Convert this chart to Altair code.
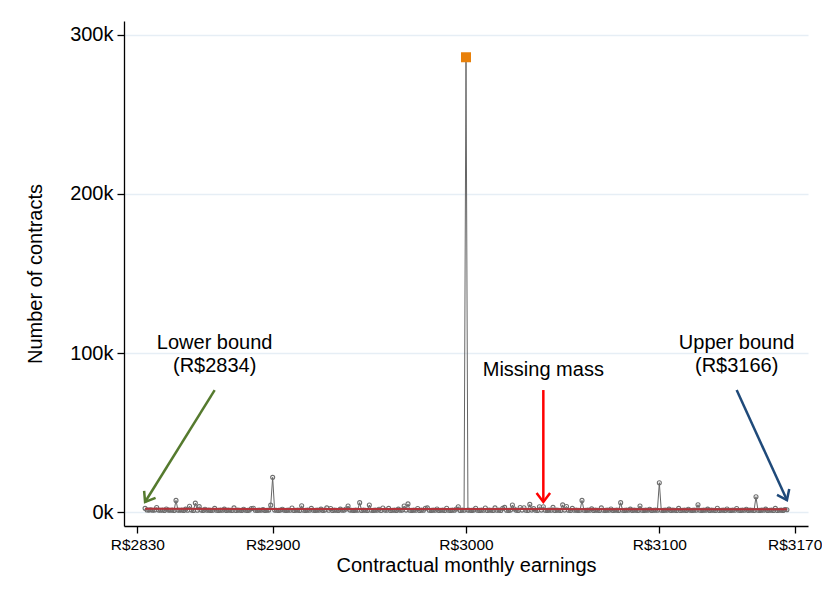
import altair as alt
import pandas as pd

# ---------------- data ----------------
earn_first = 2830  # first slot of the counts list (R$)
counts = [
    None, None, None, None, 2300, 1300, 1200, 1400, 1100, 1300,      # 2830s
    2800, 1200, 1100, 1300, 1000, 1900, 1200, 1100, 1300, 1000,      # 2840s
    7300, 1200, 1100, 1300, 1000, 1800, 1100, 3600, 1200, 1000,      # 2850s
    5600, 1100, 3400, 1200, 1000, 1700, 1100, 1200, 1000, 1100,      # 2860s
    2300, 1100, 1000, 1200, 1100, 1800, 1000, 1200, 1100, 1000,      # 2870s
    2600, 1000, 1200, 1100, 1000, 1700, 1100, 1000, 1200, 2200,      # 2880s
    2400, 1100, 1000, 1200, 1100, 1600, 1000, 1100, 1200, 4300,      # 2890s
    21800, 1200, 1100, 1000, 1200, 1700, 1100, 1000, 1200, 1100,     # 2900s
    2500, 1000, 1100, 1200, 1000, 3900, 1100, 1000, 1200, 1100,      # 2910s
    2300, 1100, 1000, 1200, 1100, 1800, 1000, 1200, 2600, 1100,      # 2920s
    2200, 1000, 1200, 1100, 1000, 1800, 1100, 1200, 1900, 3800,      # 2930s
    1200, 1100, 1000, 1200, 1100, 5900, 1000, 1200, 1100, 1000,      # 2940s
    4400, 1100, 1000, 1200, 1100, 1700, 1000, 2500, 1200, 1100,      # 2950s
    2300, 1000, 1100, 1200, 1000, 1800, 1100, 1200, 3800, 1200,      # 2960s
    5100, 1100, 1000, 1200, 1100, 2200, 1000, 1200, 1100, 2400,      # 2970s
    2600, 1100, 1000, 1200, 1100, 1900, 1000, 1100, 1200, 1000,      # 2980s
    2400, 1100, 1000, 1200, 1100, 1900, 3300, 1000, 1200, 1100,      # 2990s
    286000, 1200, 1100, 1000, 1200, 2400, 1100, 1000, 1200, 1100,   # 3000s
    2500, 1000, 1200, 1100, 1000, 2600, 1100, 1200, 1000, 2300,      # 3010s
    2900, 1100, 1000, 1200, 4400, 1900, 1100, 1000, 2800, 1200,      # 3020s
    2700, 1100, 1000, 4800, 1200, 2100, 1100, 1000, 3300, 1200,      # 3030s
    3300, 1100, 1000, 1200, 1100, 2900, 1000, 1200, 1100, 1000,      # 3040s
    4500, 1200, 3500, 1100, 1000, 2300, 1100, 1200, 1000, 1100,      # 3050s
    7300, 1100, 1000, 1200, 1100, 2000, 1000, 1200, 1100, 1000,      # 3060s
    2600, 1100, 1000, 1200, 1100, 1900, 1000, 1100, 1200, 1000,      # 3070s
    5900, 1100, 1000, 1200, 1100, 1800, 1000, 1200, 1100, 1000,      # 3080s
    3800, 1100, 1000, 1200, 1100, 1700, 1000, 1100, 1200, 1100,      # 3090s
    18400, 1100, 1000, 1200, 1100, 1800, 1000, 1200, 1100, 1000,     # 3100s
    2300, 1000, 1100, 1200, 1000, 1700, 1100, 1000, 1200, 1100,      # 3110s
    4600, 1100, 1000, 1200, 1100, 1800, 1000, 1200, 1100, 1000,      # 3120s
    2400, 1000, 1100, 1200, 1000, 1900, 1100, 1000, 1200, 1100,      # 3130s
    2200, 1100, 1000, 1200, 1100, 1700, 1000, 1200, 1100, 1000,      # 3140s
    9600, 1100, 1000, 1200, 1100, 1800, 1000, 1100, 1200, 1000,      # 3150s
    2300, 1000, 1100, 1200, 1000, 1600, 1400, None, None, None,      # 3160s
]

cf_earn = [2834, 2900, 3000, 3100, 3166]
cf_count = [2000, 1950, 1850, 1800, 1750]

peak_earn = [3000]
peak_count = [286000]

x_ticks = [2830, 2900, 3000, 3100, 3170]
y_ticks = [0, 100000, 200000, 300000]

arrow_x = [2870, 3040, 3140]
arrow_y = [76700, 76700, 76700]
arrow_x2 = [2834, 3040, 3166]
arrow_y2 = [6300, 6300, 7500]
arrow_angle = [32, 0, 335]
arrow_color = ["#557a2e", "#ff0000", "#1f4a7a"]

label_x = [2870, 2870, 3040, 3140, 3140]
label_y = [106300, 91800, 89300, 106300, 91800]
label_text = ["Lower bound", "(R$2834)", "Missing mass", "Upper bound", "(R$3166)"]

# ---------------- tables ----------------
df = pd.DataFrame({"earn": [earn_first + i for i in range(len(counts))], "n": counts}).dropna()
df_cf = pd.DataFrame({"earn": cf_earn, "n": cf_count})
df_peak = pd.DataFrame({"earn": peak_earn, "n": peak_count})
df_arrow = pd.DataFrame({"x": arrow_x, "y": arrow_y, "x2": arrow_x2, "y2": arrow_y2,
                         "angle": arrow_angle, "color": arrow_color})
df_lab = pd.DataFrame({"x": label_x, "y": label_y, "t": label_text})

FONT = "Liberation Sans"
xscale = alt.Scale(domain=[2823.1, 3176.9], nice=False, zero=False)
yscale = alt.Scale(domain=[-8800, 308800], nice=False, zero=False)

xax = alt.X("earn:Q", scale=xscale,
            axis=alt.Axis(values=x_ticks, labelExpr="'R$' + datum.value",
                          title="Contractual monthly earnings", grid=False,
                          labelFontSize=15.5, titleFontSize=20, titlePadding=3,
                          labelPadding=4, labelFlush=False))
yax = alt.Y("n:Q", scale=yscale,
            axis=alt.Axis(values=y_ticks, labelExpr="datum.value / 1000 + 'k'",
                          title="Number of contracts", grid=True,
                          labelFontSize=20, titleFontSize=20, titlePadding=24,
                          labelPadding=4))

line = alt.Chart(df).mark_line(color="#666666", strokeWidth=1).encode(x=xax, y=yax)
pts = alt.Chart(df).mark_point(shape="circle", filled=False, color="#6e6e6e",
                               size=16, strokeWidth=1.1, opacity=1).encode(x="earn:Q", y="n:Q")
cf = alt.Chart(df_cf).mark_line(color="#b3333a", strokeWidth=2).encode(x="earn:Q", y="n:Q")
peak = alt.Chart(df_peak).mark_point(shape="square", filled=True, color="#e8800a",
                                     size=100, opacity=1).encode(x="earn:Q", y="n:Q")

shafts = alt.Chart(df_arrow).mark_rule(strokeWidth=2.5).encode(
    x="x:Q", y="y:Q", x2="x2:Q", y2="y2:Q", color=alt.Color("color:N", scale=None))
heads = alt.Chart(df_arrow).mark_point(shape="M-0.75,-1L0,0L0.75,-1", filled=False,
                                       size=324, strokeWidth=2.5, opacity=1).encode(
    x="x2:Q", y="y2:Q", angle=alt.Angle("angle:Q", scale=None),
    color=alt.Color("color:N", scale=None))

labels = alt.Chart(df_lab).mark_text(font=FONT, fontSize=20, color="black",
                                     align="center", baseline="middle").encode(
    x="x:Q", y="y:Q", text="t:N")

chart = alt.layer(line, pts, cf, peak, shafts, heads, labels).properties(
    width=684, height=505,
    autosize=alt.AutoSizeParams(type="none"),
    padding={"left": 116, "top": 13, "right": 14, "bottom": 62},
    background="white",
).configure_view(stroke=None).configure_axis(
    labelFont=FONT, titleFont=FONT, labelColor="black", titleColor="black",
    titleFontWeight="normal", domainColor="black", domainWidth=1.3,
    tickColor="black", tickWidth=1.3, tickSize=7,
    gridColor="#e6eef5", gridWidth=1.5,
)

chart.save("out.html", embed_options={"renderer": "svg", "actions": False})
